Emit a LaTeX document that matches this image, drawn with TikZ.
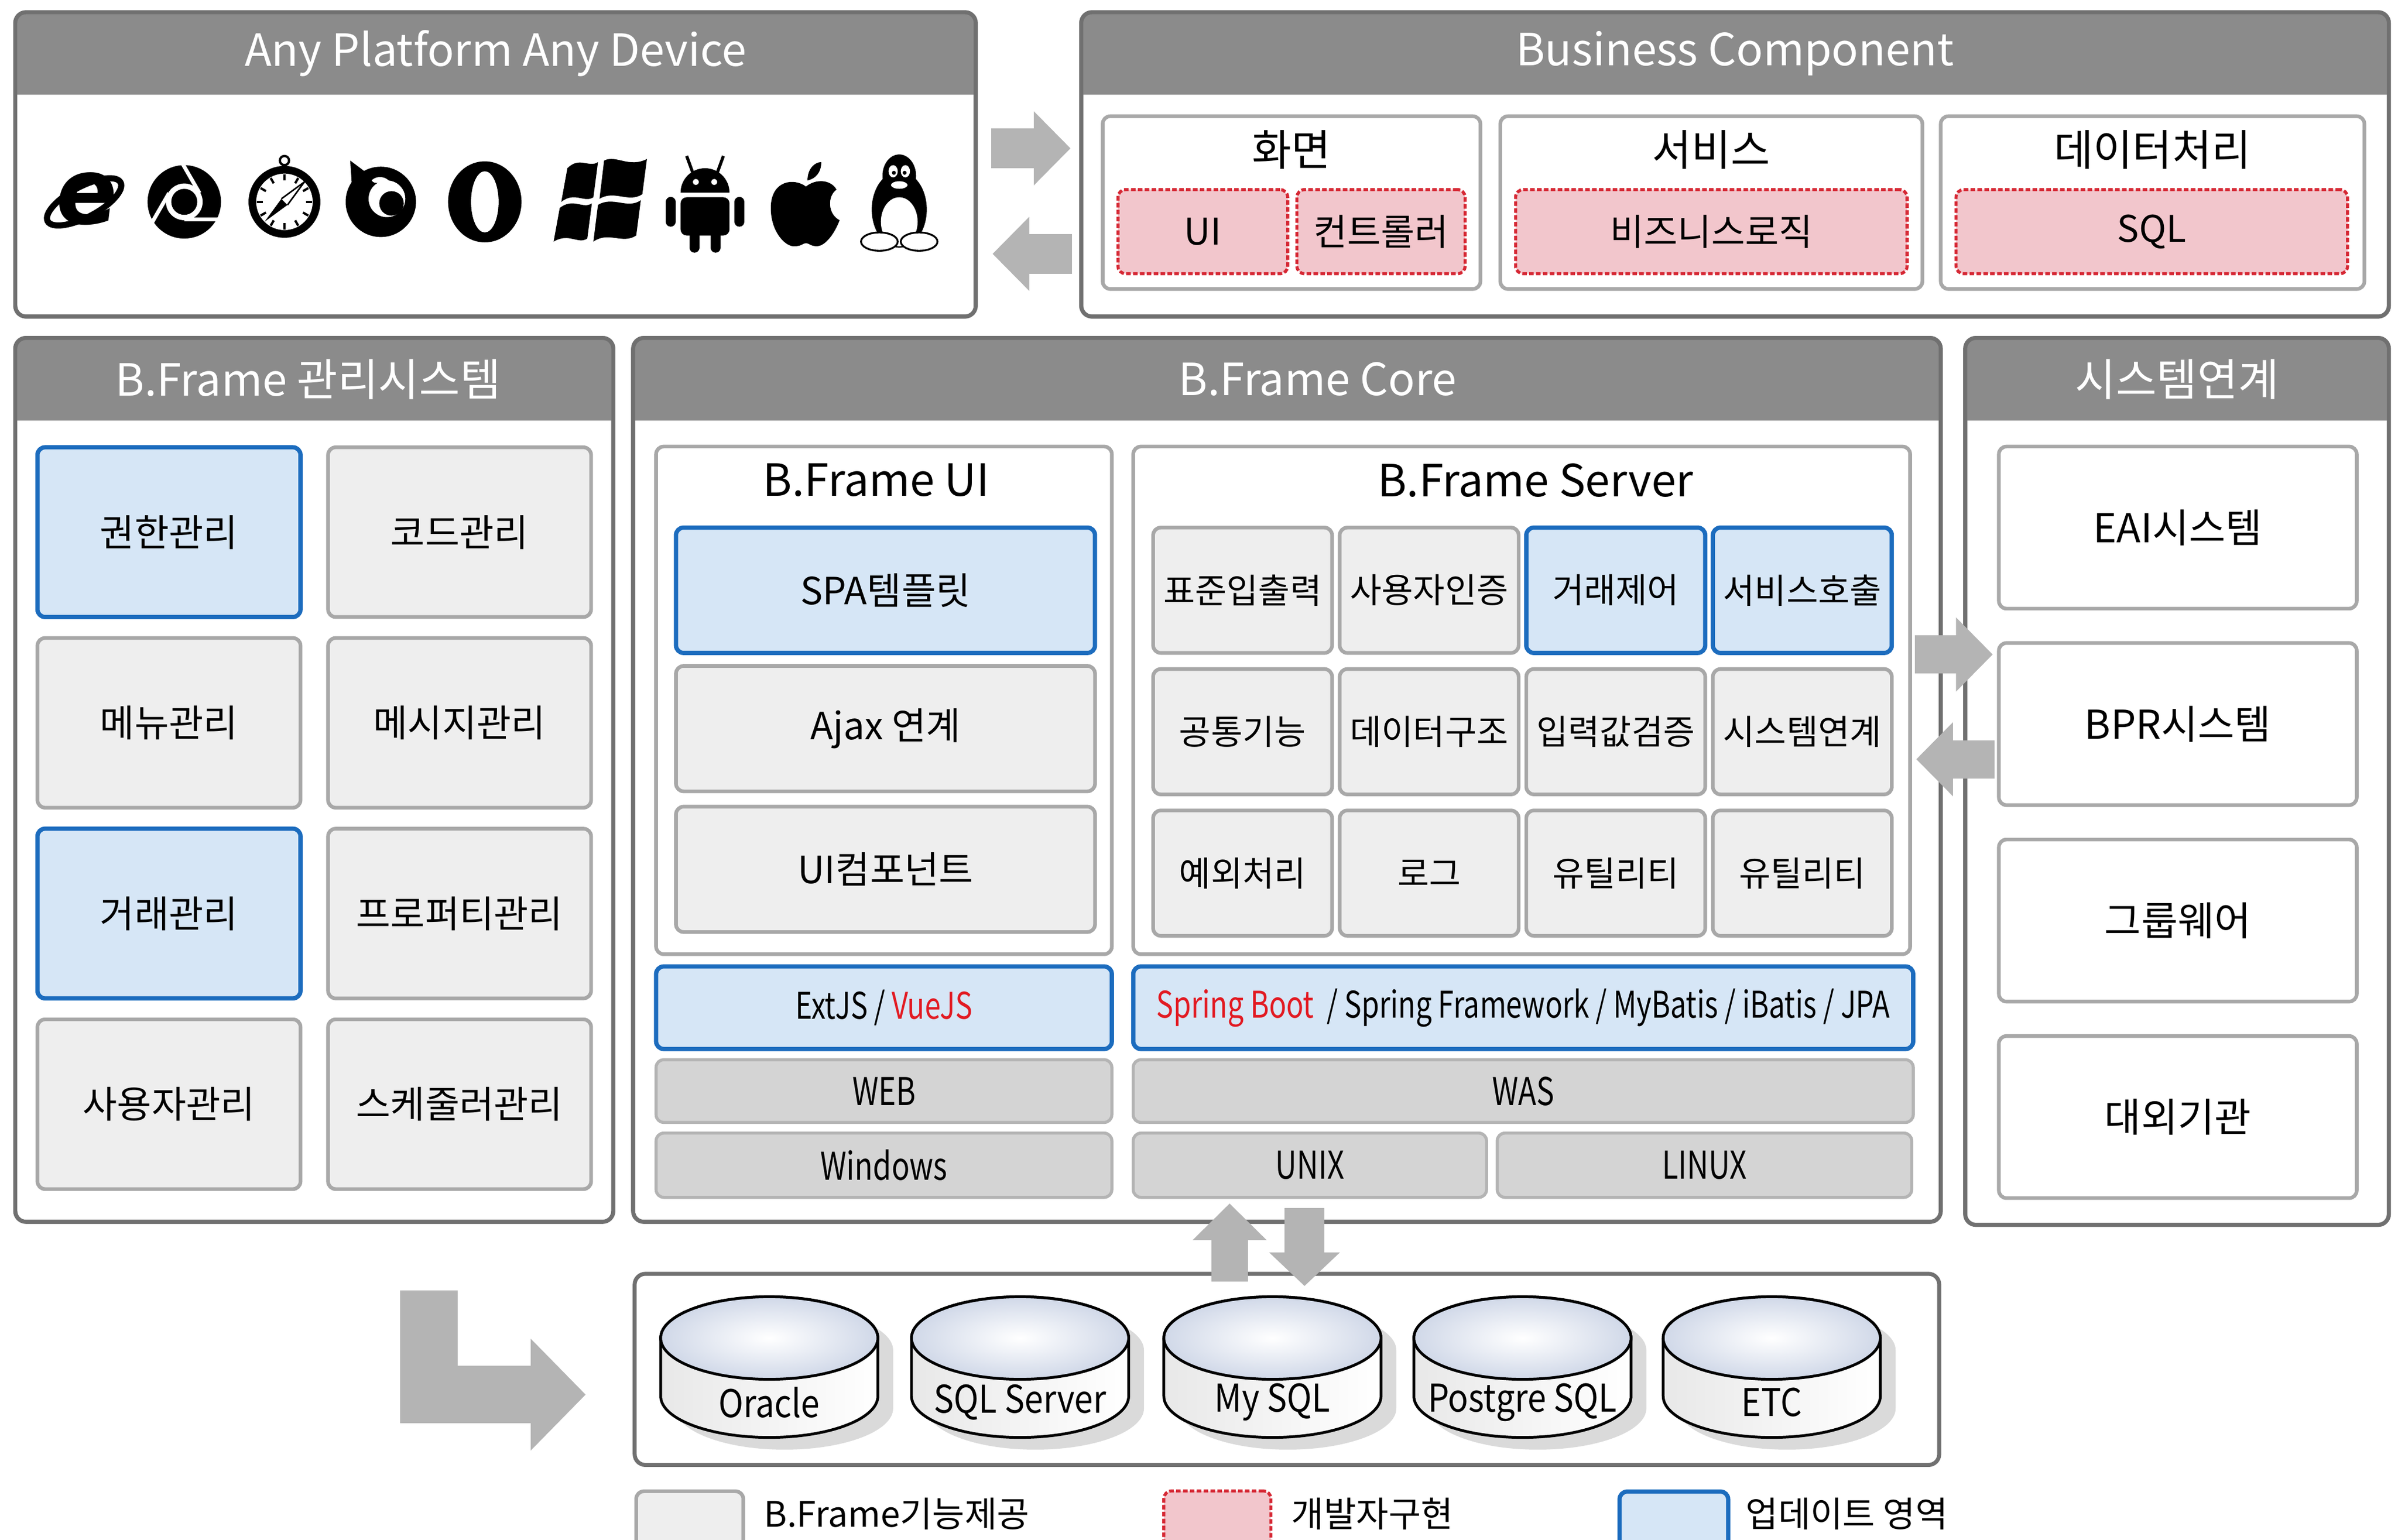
\documentclass[tikz,border=0pt]{standalone}
\usepackage{fontspec}
\usetikzlibrary{arrows.meta}
\setmainfont{Noto Sans CJK KR}
\newfontfamily\condfont[FakeStretch=0.78]{Noto Sans CJK KR}
\newfontfamily\dbfont[FakeStretch=0.88]{Noto Sans CJK KR}
\newfontfamily\iefont[FakeSlant=0.12]{DejaVu Sans}

\definecolor{hdrgray}{RGB}{139,139,139}
\definecolor{pnlline}{RGB}{112,112,112}
\definecolor{boxline}{RGB}{168,168,168}
\definecolor{boxfill}{RGB}{238,238,238}
\definecolor{updline}{RGB}{28,108,190}
\definecolor{updfill}{RGB}{214,230,246}
\definecolor{devline}{RGB}{214,40,52}
\definecolor{devfill}{RGB}{242,198,204}
\definecolor{srvfill}{RGB}{212,212,212}
\definecolor{srvline}{RGB}{180,180,180}
\definecolor{arrgray}{RGB}{180,180,180}
\definecolor{dbtop}{RGB}{208,216,232}
\definecolor{dbshd}{RGB}{218,218,218}
\definecolor{redtxt}{RGB}{226,26,34}

\tikzset{
  panel/.style={draw=pnlline, line width=2.6pt, rounded corners=7pt, fill=white, inner sep=0pt, outer sep=0pt},
  pnledge/.style={draw=pnlline, line width=2.6pt, rounded corners=7pt},
  hdrtxt/.style={text=white, font=\fontsize{29}{32}\selectfont},
  gbox/.style={draw=boxline, fill=boxfill, line width=2.4pt, rounded corners=5pt, inner sep=0pt, font=\fontsize{24.5}{27}\selectfont},
  ubox/.style={gbox, draw=updline, fill=updfill, line width=2.8pt},
  wbox/.style={gbox, fill=white},
  dbox/.style={gbox, draw=devline, fill=devfill, dash pattern=on 3pt off 1.5pt, line width=2pt, font=\fontsize{24}{27}\selectfont},
  sbox/.style={gbox, draw=srvline, fill=srvfill, line width=2pt, font=\condfont\fontsize{25}{27}\selectfont},
  ttl/.style={font=\fontsize{29}{32}\selectfont},
  bigarrow/.style={arrgray, line width=26pt, -{Triangle[length=24pt, width=47pt]}},
  dbline/.style={draw=black, line width=1.8pt},
  dbl/.style={font=\dbfont\fontsize{25}{28}\selectfont},
  lgtxt/.style={anchor=west, font=\fontsize{23}{25}\selectfont},
}

% 머리띠가 있는 패널
\newcommand{\hdrpanel}[7][0]{%
  \node[panel, anchor=north west, minimum width=#5pt, minimum height=#6pt] (#2) at (#3,#4) {};
  \begin{scope}
    \clip[rounded corners=7pt] (#2.north west) rectangle (#2.south east);
    \fill[hdrgray] (#2.north west) rectangle ([yshift=-54pt]#2.north east);
  \end{scope}
  \draw[pnledge] (#2.north west) rectangle (#2.south east);
  \node[hdrtxt] (#2t) at ([xshift=#1pt, yshift=-27pt]#2.north) {#7};
}

\begin{document}
\begin{tikzpicture}[x=1pt, y=-1pt]
  \useasboundingbox (0,0) rectangle (1568,1007);
  \fill[white] (0,0) rectangle (1568,1007);

  % 패널
  \hdrpanel{apad}{10}{8}{628}{199}{Any Platform Any Device}
  \hdrpanel{biz}{707}{8}{855}{199}{Business Component}
  \hdrpanel[-4]{mgmt}{10}{221}{391}{578}{B.Frame 관리시스템}
  \hdrpanel[20]{core}{414}{221}{855}{578}{B.Frame Core}
  \hdrpanel{intg}{1285}{221}{277}{580}{시스템연계}
  \node[panel, anchor=north west, minimum width=853pt, minimum height=125pt] (dbp) at (415,833) {};

  % 플랫폼 아이콘
  \begin{scope}[shift={(55,132)}]
    \draw[line width=4pt, rotate=28] (0,0) ellipse[x radius=27pt, y radius=10pt];
    \node[inner sep=0pt, font=\iefont\bfseries\fontsize{60}{60}\selectfont] (ie) at (0,-2) {e};
  \end{scope}
  \begin{scope}[shift={(120.5,132)}]
    \fill (0,0) circle[radius=24pt];
    \fill[white] (0,0) circle[radius=12pt];
    \fill (0,0) circle[radius=8.5pt];
    \foreach \a in {90,210,330}
      \draw[white, line width=2.5pt] (\a:11.5) -- ++(\a-90:22);
  \end{scope}
  \begin{scope}[shift={(186,132)}]
    \draw[line width=5pt] (0,0) circle[radius=21pt];
    \draw[line width=1.5pt] (0,-27) circle[radius=3pt];
    \foreach \a in {0,30,...,330}
      \draw[line width=1.5pt] (\a:14) -- (\a:18);
    \fill (-13,13) -- (-2,-2) -- (13,-13) -- (2,2) -- cycle;
    \fill[white] (-2,-2) -- (13,-13) -- (2,2) -- cycle;
    \draw[line width=1pt] (-2,-2) -- (13,-13) -- (2,2);
  \end{scope}
  \begin{scope}[shift={(249,132)}]
    \fill (0,0) circle[radius=23pt];
    \fill (-19,-12) -- (-20,-27) -- (-8,-18) -- cycle;
    \fill[white] (4,-2) circle[radius=12pt];
    \fill (7,1) circle[radius=8pt];
    \fill[white] (-6,-14) .. controls (-2,-18) and (4,-16) .. (6,-13) .. controls (0,-13) and (-4,-11) .. cycle;
  \end{scope}
  \begin{scope}[shift={(317,132)}]
    \fill (0,0) ellipse[x radius=24pt, y radius=26.5pt];
    \fill[white] (0,0) ellipse[x radius=9pt, y radius=20pt];
  \end{scope}
  \begin{scope}[shift={(393,132)}]
    \fill (-22,-22) .. controls (-14,-30) and (-8,-22) .. (-2,-26) -- (-5,-3)
      .. controls (-11,1) and (-17,-7) .. (-26,0) -- cycle;
    \fill (2,-27) .. controls (10,-31) and (18,-22) .. (30,-28) -- (27,-5)
      .. controls (18,1) and (9,-8) .. (-1,-2) -- cycle;
    \fill (-27,4) .. controls (-18,-3) and (-12,5) .. (-6,1) -- (-9,24)
      .. controls (-15,28) and (-21,20) .. (-31,26) -- cycle;
    \fill (-2,2) .. controls (8,-4) and (17,5) .. (26,-1) -- (23,22)
      .. controls (14,28) and (5,19) .. (-5,26) -- cycle;
  \end{scope}
  \begin{scope}[shift={(461,133)}]
    \fill (-16,-7) arc[start angle=180, end angle=0, radius=16pt] -- cycle;
    \draw[line width=2pt] (-8,-20) -- (-12,-31) (8,-20) -- (12,-31);
    \fill[white] (-6,-14) circle[radius=2pt] (6,-14) circle[radius=2pt];
    \fill[rounded corners=4pt] (-16,-4) -- (-16,21) -- (16,21) -- (16,-4) -- cycle;
    \draw[line width=6.5pt, line cap=round] (-22.5,-1) -- (-22.5,12) (22.5,-1) -- (22.5,12)
      (-7,18) -- (-7,29) (7,18) -- (7,29);
  \end{scope}
  \begin{scope}[shift={(527,134)}]
    \fill (0,-12) .. controls (-8,-18) and (-23,-16) .. (-23,2) .. controls (-23,18) and (-13,28) .. (-7,27)
      .. controls (-3,27) and (-2,25) .. (0,25) .. controls (2,25) and (3,27) .. (7,27)
      .. controls (13,27) and (19,18) .. (22,10) .. controls (14,6) and (14,-6) .. (20,-10)
      .. controls (16,-17) and (6,-17) .. (0,-12) -- cycle;
    \fill (1,-16) .. controls (1,-24) and (6,-28) .. (10,-28) .. controls (10,-21) and (6,-17) .. (1,-16) -- cycle;
  \end{scope}
  \begin{scope}[shift={(588,132)}]
    \fill (0,5) ellipse[x radius=18pt, y radius=25pt];
    \fill (0,-17) ellipse[x radius=11pt, y radius=14pt];
    \fill[white] (0,13) ellipse[x radius=12pt, y radius=16pt];
    \fill[white] (-4,-20) ellipse[x radius=3pt, y radius=4pt] (4,-20) ellipse[x radius=3pt, y radius=4pt];
    \fill (-3.5,-19) circle[radius=1.3pt] (3.5,-19) circle[radius=1.3pt];
    \draw[fill=white, line width=1pt] (0,-11) ellipse[x radius=6pt, y radius=3pt];
    \draw[fill=white, line width=1.2pt] (-13,26) ellipse[x radius=12pt, y radius=6pt];
    \draw[fill=white, line width=1.2pt] (13,26) ellipse[x radius=12pt, y radius=6pt];
  \end{scope}

  % Business Component
  \node[wbox, minimum width=247pt, minimum height=113pt] (scr) at (844.5,132.5) {};
  \node[wbox, minimum width=276pt, minimum height=113pt] (svc) at (1119,132.5) {};
  \node[wbox, minimum width=277pt, minimum height=113pt] (dat) at (1407.5,132.5) {};
  \node[ttl, font=\fontsize{28}{30}\selectfont] (scrt) at (844.5,98) {화면};
  \node[ttl, font=\fontsize{28}{30}\selectfont] (svct) at (1119,98) {서비스};
  \node[ttl, font=\fontsize{28}{30}\selectfont] (datt) at (1407.5,98) {데이터처리};
  \node[dbox, minimum width=111pt, minimum height=55pt] (bui) at (786.5,151.5) {UI};
  \node[dbox, minimum width=110pt, minimum height=55pt] (bctl) at (903,151.5) {컨트롤러};
  \node[dbox, minimum width=256pt, minimum height=55pt] (blog) at (1119,151.5) {비즈니스로직};
  \node[dbox, minimum width=256pt, minimum height=55pt] (bsql) at (1407,151.5) {SQL};

  % 관리시스템
  \foreach \t/\c/\r/\s in {권한관리/0/0/ubox, 코드관리/1/0/gbox, 메뉴관리/0/1/gbox, 메시지관리/1/1/gbox,
      거래관리/0/2/ubox, 프로퍼티관리/1/2/gbox, 사용자관리/0/3/gbox, 스케줄러관리/1/3/gbox}
    \node[\s, minimum width=172pt, minimum height=111pt]
      (m\c\r) at (110.5+190*\c, 348+124.7*\r) {\t};

  % B.Frame UI
  \node[wbox, minimum width=298pt, minimum height=332pt] (uibox) at (578,458) {};
  \node[ttl] (uit) at (573,314) {B.Frame UI};
  \foreach \t/\s/\y [count=\i] in {SPA템플릿/ubox/386, Ajax 연계/gbox/476.5, UI컴포넌트/gbox/568.5}
    \node[\s, minimum width=274pt, minimum height=82pt] (ui\i) at (579,\y) {\t};

  % B.Frame Server
  \node[wbox, minimum width=508pt, minimum height=332pt] (srvbox) at (995,458) {};
  \node[ttl] (srvt) at (1004,314) {B.Frame Server};
  \foreach \t/\c/\r/\s in {표준입출력/0/0/gbox, 사용자인증/1/0/gbox, 거래제어/2/0/ubox, 서비스호출/3/0/ubox,
      공통기능/0/1/gbox, 데이터구조/1/1/gbox, 입력값검증/2/1/gbox, 시스템연계/3/1/gbox,
      예외처리/0/2/gbox, 로그/1/2/gbox, 유틸리티/2/2/gbox, 유틸리티/3/2/gbox}
    \node[\s, minimum width=117pt, minimum height=82pt, font=\fontsize{22.5}{24}\selectfont]
      (s\c\r) at (812.5+122*\c, 386+92.5*\r) {\t};

  % 프레임워크와 플랫폼
  \node[ubox, minimum width=298pt, minimum height=54pt, font=\condfont\fontsize{24}{26}\selectfont]
    (fe) at (578,659) {ExtJS / \textcolor{redtxt}{VueJS}};
  \node[ubox, minimum width=510pt, minimum height=54pt, font=\condfont\fontsize{24}{26}\selectfont]
    (be) at (996,659) {\textcolor{redtxt}{Spring Boot}\ \ / Spring Framework / MyBatis / iBatis / JPA};
  \node[sbox, minimum width=298pt, minimum height=41pt] (web) at (578,713.5) {WEB};
  \node[sbox, minimum width=510pt, minimum height=41pt] (was) at (996,713.5) {WAS};
  \node[sbox, minimum width=298pt, minimum height=42pt] (wnd) at (578,762) {Windows};
  \node[sbox, minimum width=231pt, minimum height=42pt] (unx) at (856.5,762) {UNIX};
  \node[sbox, minimum width=271pt, minimum height=42pt] (lnux) at (1114.5,762) {LINUX};

  % 시스템연계
  \foreach \t [count=\i from 0] in {EAI시스템, BPR시스템, 그룹웨어, 대외기관}
    \node[wbox, minimum width=234pt, minimum height=106pt, font=\fontsize{26}{28}\selectfont]
      (x\i) at (1424,345+128.5*\i) {\t};

  % 데이터베이스
  \foreach \n/\x/\t in {ora/503/Oracle, mss/667/SQL Server, mys/832/My SQL, pgs/995.5/Postgre SQL, etc/1158.5/ETC}{
    \fill[dbshd] (\x-61,883) -- (\x-61,921) arc[start angle=180, end angle=360, x radius=71pt, y radius=27pt]
      -- (\x+81,883) arc[start angle=0, end angle=180, x radius=71pt, y radius=27pt] -- cycle;
    \draw[dbline, left color=gray!18, right color=white] (\x-71,875) -- (\x-71,913)
      arc[start angle=180, end angle=360, x radius=71pt, y radius=27pt]
      -- (\x+71,875) arc[start angle=0, end angle=180, x radius=71pt, y radius=27pt] -- cycle;
    \draw[dbline, inner color=white, outer color=dbtop] (\x,875) ellipse[x radius=71pt, y radius=27pt];
    \node[dbl] (\n) at (\x,917) {\t};
  }

  % 화살표
  \coordinate (a1s) at (648,97);     \coordinate (a1e) at (700,97);
  \coordinate (a2s) at (701,166);    \coordinate (a2e) at (649,166);
  \coordinate (a3s) at (1252,428);   \coordinate (a3e) at (1303,428);
  \coordinate (a4s) at (1304,496.5); \coordinate (a4e) at (1253,496.5);
  \coordinate (a5s) at (804,838);    \coordinate (a5e) at (804,787);
  \coordinate (a6s) at (853,790);    \coordinate (a6e) at (853,841);
  \coordinate (a7s) at (280.5,844);  \coordinate (a7m) at (280.5,912); \coordinate (a7e) at (383,912);
  \draw[bigarrow] (a1s) -- (a1e);
  \draw[bigarrow] (a2s) -- (a2e);
  \draw[bigarrow, line width=25pt] (a3s) -- (a3e);
  \draw[bigarrow, line width=25pt] (a4s) -- (a4e);
  \draw[bigarrow, line width=24pt] (a5s) -- (a5e);
  \draw[bigarrow, -{Triangle[length=22pt, width=45pt]}] (a6s) -- (a6e);
  \draw[arrgray, line width=37.5pt, -{Triangle[length=36pt, width=71pt]}] (a7s) -- (a7m) -- (a7e);

  % 범례
  \node[gbox, minimum width=70pt, minimum height=50pt, anchor=north] (lg1) at (451,974) {};
  \node[dbox, minimum width=70pt, minimum height=50pt, anchor=north] (lg2) at (796,974) {};
  \node[ubox, minimum width=71pt, minimum height=50pt, anchor=north] (lg3) at (1094.5,974) {};
  \node[lgtxt] (lg1t) at (496,990) {B.Frame기능제공};
  \node[lgtxt] (lg2t) at (841,990) {개발자구현};
  \node[lgtxt] (lg3t) at (1138,990) {업데이트 영역};
\end{tikzpicture}
\end{document}
